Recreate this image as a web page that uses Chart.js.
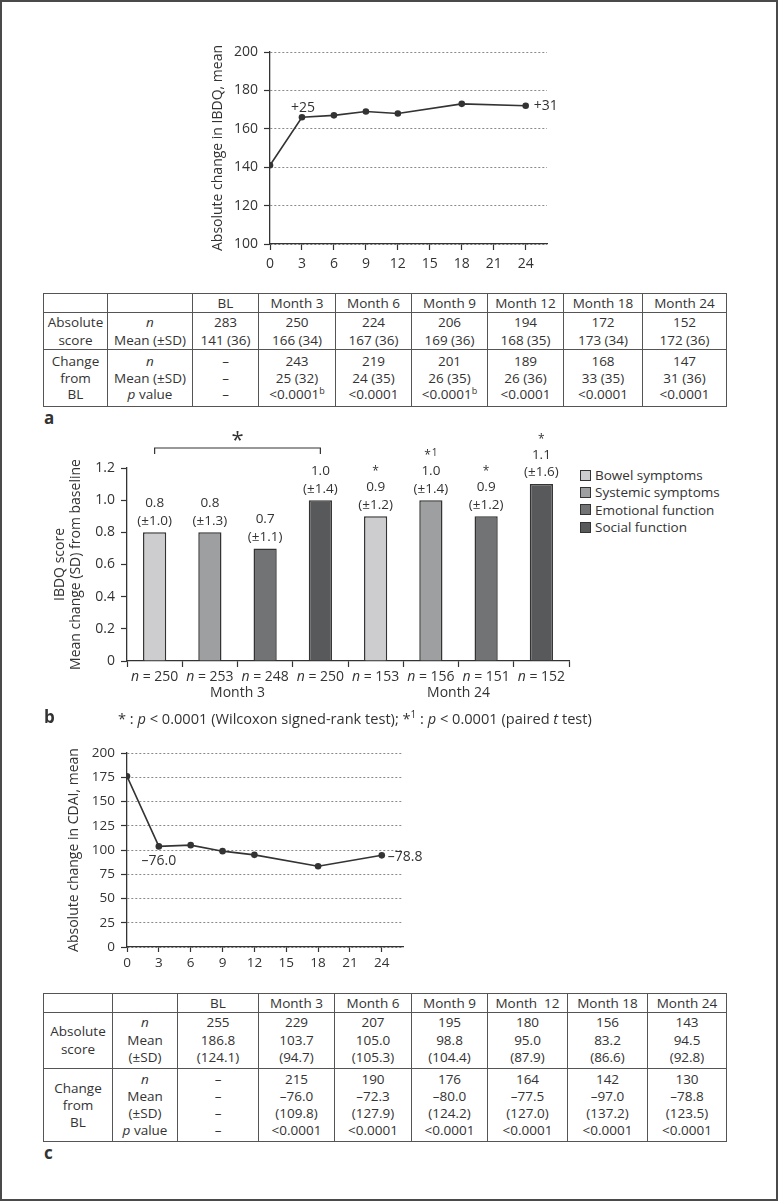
<!DOCTYPE html>
<html>
<head>
<meta charset="utf-8">
<script src="https://cdn.jsdelivr.net/npm/chart.js@4.4.0/dist/chart.umd.min.js"></script>
<style>
  body { margin: 0; background: #fff; }
  #page { position: relative; width: 778px; height: 1201px; box-shadow: inset 0 0 0 2px #4a4a4a;
          font-family: 'Open Sans', sans-serif; color: #333; overflow: hidden; }
  canvas { position: absolute; }
  .tbl { position: absolute; border-collapse: collapse; table-layout: fixed; font-size: 13.5px; color: #333; }
  .tbl td { border: 1px solid #555; text-align: center; vertical-align: middle; padding: 0; white-space: nowrap; overflow: hidden; }
  .tbl sup { font-size: 9px; line-height: 0; }
  .panel { position: absolute; font-weight: bold; font-size: 17px; line-height: 20px; }
  #legendB { position: absolute; left: 580px; top: 467px; font-size: 13.5px; }
  #legendB div { height: 17.3px; line-height: 17.3px; white-space: nowrap; }
  #legendB .box { display: inline-block; width: 9px; height: 9px; border: 1.5px solid #333; vertical-align: middle;
                  margin-right: 4px; position: relative; top: -1px; }
  #noteB { position: absolute; left: 118px; top: 708px; font-size: 14.6px; line-height: 20px; white-space: nowrap; }
  #noteB sup { font-size: 10px; line-height: 0; }
</style>
</head>
<body>
<div id="page">
  <canvas id="chartA" width="375" height="250" style="left:195px;top:30px"></canvas>
  <table id="tableA" class="tbl" style="left:43px;top:293px;width:683px"></table>
  <div class="panel" style="left:44px;top:408px">a</div>

  <canvas id="chartB" width="545" height="290" style="left:30px;top:425px"></canvas>
  <div id="legendB"></div>
  <div id="noteB">* : <i>p</i> &lt; 0.0001 (Wilcoxon signed-rank test); *<sup>1</sup> : <i>p</i> &lt; 0.0001 (paired <i>t</i> test)</div>
  <div class="panel" style="left:44px;top:707px">b</div>

  <canvas id="chartC" width="400" height="240" style="left:30px;top:735px"></canvas>
  <table id="tableC" class="tbl" style="left:43px;top:993px;width:683px"></table>
  <div class="panel" style="left:44px;top:1143px">c</div>
</div>

<script>
// visits
var visitMonths = [0, 3, 6, 9, 12, 18, 24];
var monthTicks = [0, 3, 6, 9, 12, 15, 18, 21, 24];
var visitNames = ['BL', 'Month 3', 'Month 6', 'Month 9', 'Month 12', 'Month 18', 'Month 24'];

// panel a - IBDQ
var ibdqN = [283, 250, 224, 206, 194, 172, 152];
var ibdqMean = [141, 166, 167, 169, 168, 173, 172];
var ibdqSD = [36, 34, 36, 36, 35, 34, 36];
var ibdqChgN = [null, 243, 219, 201, 189, 168, 147];
var ibdqChgMean = [null, 25, 24, 26, 26, 33, 31];
var ibdqChgSD = [null, 32, 35, 35, 36, 35, 36];
var ibdqPNote = ['', 'b', '', 'b', '', '', ''];

// panel b - IBDQ domains
var domainNames = ['Bowel symptoms', 'Systemic symptoms', 'Emotional function', 'Social function'];
var domainColors = ['#cdcdcf', '#9e9fa1', '#727375', '#58595b'];
var barMonths = ['Month 3', 'Month 24'];
var barN = [250, 253, 248, 250, 153, 156, 151, 152];
var barMean = [0.8, 0.8, 0.7, 1.0, 0.9, 1.0, 0.9, 1.1];
var barSD = [1.0, 1.3, 1.1, 1.4, 1.2, 1.4, 1.2, 1.6];
var barSig = ['', '', '', '', '*', '*1', '*', '*'];

// panel c - CDAI
var cdaiN = [255, 229, 207, 195, 180, 156, 143];
var cdaiMean = [186.8, 103.7, 105.0, 98.8, 95.0, 83.2, 94.5];
var cdaiSD = [124.1, 94.7, 105.3, 104.4, 87.9, 86.6, 92.8];
var cdaiPlotted = [176, 103.7, 105.0, 98.8, 95.0, 83.2, 94.5]; // BL point sits at ~176 in the figure
var cdaiChgN = [null, 215, 190, 176, 164, 142, 130];
var cdaiChgMean = [null, -76.0, -72.3, -80.0, -77.5, -97.0, -78.8];
var cdaiChgSD = [null, 109.8, 127.9, 124.2, 127.0, 137.2, 123.5];

var FONT = "'Open Sans', sans-serif";
var INK = '#333';
Chart.defaults.font.family = FONT;
Chart.defaults.color = INK;

function fmt(v, d) {
  return (v < 0 ? '\u2013' : '') + Math.abs(v).toFixed(d);
}

// text next to points (+25, +31, -76.0 ...)
var pointNotes = {
  id: 'pointNotes',
  afterDatasetsDraw: function(chart, args, opts) {
    var pts = chart.getDatasetMeta(0).data;
    var ctx = chart.ctx;
    ctx.save();
    ctx.fillStyle = INK;
    ctx.font = '14px ' + FONT;
    ctx.textBaseline = 'middle';
    opts.items.forEach(function(it) {
      var p = pts[it.index];
      ctx.textAlign = it.align;
      ctx.fillText(it.text, p.x + it.dx, p.y + it.dy);
    });
    ctx.restore();
  }
};

function lineChart(id, values, yMin, yMax, yStep, title, sizes, notes) {
  return new Chart(document.getElementById(id), {
    type: 'line',
    data: {
      datasets: [{
        data: visitMonths.map(function(m, i) { return {x: m, y: values[i]}; }),
        borderColor: INK,
        borderWidth: 1.6,
        pointRadius: 3.3,
        pointBackgroundColor: INK,
        pointBorderWidth: 0,
        tension: 0
      }]
    },
    plugins: [pointNotes],
    options: {
      responsive: false,
      animation: false,
      layout: {padding: {top: sizes.top, right: sizes.right, left: 0, bottom: 0}},
      plugins: {
        legend: {display: false},
        tooltip: {enabled: false},
        pointNotes: {items: notes}
      },
      scales: {
        x: {
          type: 'linear', min: 0, max: 26,
          afterBuildTicks: function(s) { s.ticks = monthTicks.map(function(v) { return {value: v}; }); },
          afterFit: function(s) { s.height = sizes.xh; },
          grid: {drawOnChartArea: false, color: INK, tickLength: sizes.tl, tickWidth: 1.2},
          border: {color: INK, width: 1.3},
          ticks: {padding: sizes.xpad, maxRotation: 0, font: {size: sizes.font}, color: INK}
        },
        y: {
          min: yMin, max: yMax,
          ticks: {stepSize: yStep, padding: 6, font: {size: sizes.font}, color: INK},
          afterFit: function(s) { s.width = sizes.yw; },
          grid: {color: '#8a8a8a', lineWidth: 1, tickColor: INK, tickLength: 6, tickWidth: 1.2, tickBorderDash: []},
          border: {color: INK, width: 1.3, dash: [2, 2]},
          title: {display: true, text: title, font: {size: 14}, color: INK, padding: {top: sizes.tpad, bottom: 0}}
        }
      }
    }
  });
}

// panel a chart
lineChart('chartA', ibdqMean, 100, 200, 20, 'Absolute change in IBDQ, mean',
  {top: 22, right: 23, xh: 36, yw: 75, tl: 6, xpad: 6, font: 14, tpad: 14.6},
  [{index: 1, text: '+' + ibdqChgMean[1], align: 'center', dx: 1, dy: -9},
   {index: 6, text: '+' + ibdqChgMean[6], align: 'left', dx: 8, dy: 0}]);

// panel c chart
lineChart('chartC', cdaiPlotted, 0, 200, 25, 'Absolute change in CDAI, mean',
  {top: 18, right: 27, xh: 28, yw: 97, tl: 5, xpad: 3, font: 13.5, tpad: 35.6},
  [{index: 1, text: fmt(cdaiChgMean[1], 1), align: 'center', dx: 0, dy: 15},
   {index: 6, text: fmt(cdaiChgMean[6], 1), align: 'left', dx: 6, dy: 2}]);

// panel b annotations: values, SDs, stars, n labels, bracket
function drawStar(ctx, mark, cx, cy, size) {
  // asterisk glyph sits high, so push baseline down to centre it on cy
  ctx.font = size + 'px ' + FONT;
  ctx.textBaseline = 'alphabetic';
  var base = cy + size * 0.56;
  if (mark === '*1') {
    var w1 = ctx.measureText('*').width;
    ctx.font = (size - 2) + 'px ' + FONT;
    var w2 = ctx.measureText('1').width;
    var left = cx - (w1 + w2 + 1) / 2;
    ctx.font = size + 'px ' + FONT;
    ctx.textAlign = 'left';
    ctx.fillText('*', left, base);
    ctx.font = (size - 2) + 'px ' + FONT;
    ctx.fillText('1', left + w1 + 1, base - size * 0.25);
  } else {
    ctx.textAlign = 'center';
    ctx.fillText('*', cx, base);
  }
}

var barNotes = {
  id: 'barNotes',
  afterDatasetsDraw: function(chart) {
    var ctx = chart.ctx, x = chart.scales.x, y = chart.scales.y, area = chart.chartArea;
    ctx.save();
    ctx.fillStyle = INK;
    ctx.strokeStyle = INK;
    barMean.forEach(function(v, i) {
      var cx = x.getPixelForValue(i);
      var top = y.getPixelForValue(v);
      ctx.font = '13.5px ' + FONT;
      ctx.textAlign = 'center';
      ctx.textBaseline = 'middle';
      ctx.fillText(v.toFixed(1), cx, top - 29);
      ctx.fillText('(\u00b1' + barSD[i].toFixed(1) + ')', cx, top - 11.5);
      if (barSig[i]) drawStar(ctx, barSig[i], cx, top - 48, 12);

      // n = ... under the axis, italic n
      ctx.textBaseline = 'middle';
      ctx.font = 'italic 14px ' + FONT;
      var wn = ctx.measureText('n').width;
      ctx.font = '14px ' + FONT;
      var rest = ' = ' + barN[i];
      var wr = ctx.measureText(rest).width;
      var left = cx - (wn + wr) / 2;
      ctx.textAlign = 'left';
      ctx.font = 'italic 14px ' + FONT;
      ctx.fillText('n', left, area.bottom + 16);
      ctx.font = '14px ' + FONT;
      ctx.fillText(rest, left + wn, area.bottom + 16);
    });

    ctx.textAlign = 'center';
    ctx.font = '14px ' + FONT;
    barMonths.forEach(function(m, g) {
      var cx = (x.getPixelForValue(g * 4) + x.getPixelForValue(g * 4 + 3)) / 2;
      ctx.fillText(m, cx, area.bottom + 32);
    });

    // bracket Month 3 bowel vs social
    var x1 = x.getPixelForValue(0), x2 = x.getPixelForValue(3);
    var by = area.top - 20;
    ctx.lineWidth = 1.2;
    ctx.beginPath();
    ctx.moveTo(x1, by + 6); ctx.lineTo(x1, by); ctx.lineTo(x2, by); ctx.lineTo(x2, by + 6);
    ctx.stroke();
    drawStar(ctx, '*', (x1 + x2) / 2, by - 13, 22);
    ctx.restore();
  }
};

new Chart(document.getElementById('chartB'), {
  type: 'bar',
  data: {
    labels: barN.map(function(n) { return 'n = ' + n; }),
    datasets: domainNames.map(function(name, k) {
      return {
        label: name,
        data: barMean.map(function(v, i) { return i % 4 === k ? v : null; }),
        backgroundColor: domainColors[k],
        borderColor: '#333',
        borderWidth: 1.5,
        borderSkipped: 'start'
      };
    })
  },
  plugins: [barNotes],
  options: {
    responsive: false,
    animation: false,
    grouped: false,
    barPercentage: 0.42,
    categoryPercentage: 1,
    layout: {padding: {top: 43, right: 6, left: 0, bottom: 0}},
    plugins: {legend: {display: false}, tooltip: {enabled: false}},
    scales: {
      x: {
        afterFit: function(s) { s.height = 54; },
        grid: {drawOnChartArea: false, offset: true, color: INK, tickLength: 6, tickWidth: 1.2},
        border: {color: INK, width: 1.3},
        ticks: {display: false}
      },
      y: {
        min: 0, max: 1.2,
        afterFit: function(s) { s.width = 97; },
        ticks: {stepSize: 0.2, padding: 6, font: {size: 14}, color: INK,
                callback: function(v) { return v === 0 ? '0' : v.toFixed(1); }},
        grid: {drawOnChartArea: false, color: INK, tickLength: 6, tickWidth: 1.2},
        border: {color: INK, width: 1.3},
        title: {display: true, text: ['IBDQ score', 'Mean change (SD) from baseline'],
                font: {size: 14, lineHeight: 1.15}, color: INK, padding: {top: 22, bottom: 0}}
      }
    }
  }
});

// legend for panel b
document.getElementById('legendB').innerHTML = domainNames.map(function(name, k) {
  return '<div><span class="box" style="background:' + domainColors[k] + '"></span>' + name + '</div>';
}).join('');

// tables
function cell(lines, lh) {
  return '<td style="line-height:' + lh + 'px">' + lines.join('<br>') + '</td>';
}

function buildTable(id, widths, heights, lh, rows) {
  var html = '<colgroup>' + widths.map(function(w) { return '<col style="width:' + w + 'px">'; }).join('') + '</colgroup>';
  html += '<tr style="height:' + heights[0] + 'px"><td></td><td></td>' +
    visitNames.map(function(n, i) { return cell([id === 'tableC' && i === 4 ? 'Month&nbsp; 12' : n], 17); }).join('') + '</tr>';
  rows.forEach(function(r, k) {
    html += '<tr style="height:' + heights[k + 1] + 'px">' + cell(r.head, lh[k]) + cell(r.sub, lh[k]) +
      visitNames.map(function(n, i) { return cell(r.vals(i), lh[k]); }).join('') + '</tr>';
  });
  document.getElementById(id).innerHTML = html;
}

var dash = '\u2013';
buildTable('tableA', [64, 85, 66, 77, 76, 76, 76, 79, 84], [19, 37, 57], [18, 16.5], [
  {head: ['Absolute', 'score'], sub: ['<i>n</i>', 'Mean (\u00b1SD)'],
   vals: function(i) { return [ibdqN[i], ibdqMean[i] + ' (' + ibdqSD[i] + ')']; }},
  {head: ['Change', 'from', 'BL'], sub: ['<i>n</i>', 'Mean (\u00b1SD)', '<i>p</i> value'],
   vals: function(i) {
     if (ibdqChgN[i] === null) return [dash, dash, dash];
     return [ibdqChgN[i], ibdqChgMean[i] + ' (' + ibdqChgSD[i] + ')',
             '&lt;0.0001' + (ibdqPNote[i] ? '<sup>' + ibdqPNote[i] + '</sup>' : '')];
   }}
]);

buildTable('tableC', [69, 65, 81, 76, 77, 76, 80, 80, 79], [19, 56, 73], [17.5, 17], [
  {head: ['Absolute', 'score'], sub: ['<i>n</i>', 'Mean', '(\u00b1SD)'],
   vals: function(i) { return [cdaiN[i], fmt(cdaiMean[i], 1), '(' + cdaiSD[i].toFixed(1) + ')']; }},
  {head: ['Change', 'from', 'BL'], sub: ['<i>n</i>', 'Mean', '(\u00b1SD)', '<i>p</i> value'],
   vals: function(i) {
     if (cdaiChgN[i] === null) return [dash, dash, dash, dash];
     return [cdaiChgN[i], fmt(cdaiChgMean[i], 1), '(' + cdaiChgSD[i].toFixed(1) + ')', '&lt;0.0001'];
   }}
]);
</script>
</body>
</html>
